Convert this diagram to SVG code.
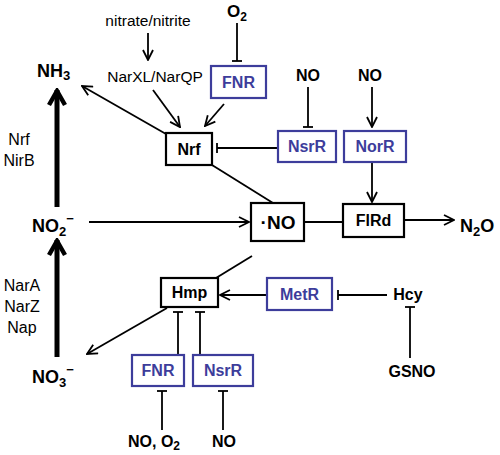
<svg xmlns="http://www.w3.org/2000/svg" width="500" height="455" viewBox="0 0 500 455">
<style>
text{font-family:"Liberation Sans",Arial,sans-serif;fill:#000}
.b{font-weight:bold}
.bl{font-weight:bold;fill:#3d3d9b;font-size:16px}
.kb{font-weight:bold;font-size:16px}
.box{fill:#fff;stroke:#000;stroke-width:2.2}
.rbox{fill:#fff;stroke:#3d3d9b;stroke-width:2.2}
.ln{stroke:#000;stroke-width:1.8;fill:none}
.thick{stroke:#000;stroke-width:5;fill:none}
</style>
<defs>
<marker id="arr" viewBox="0 0 12 12" refX="11" refY="6" markerWidth="12" markerHeight="12" markerUnits="userSpaceOnUse" orient="auto">
<path d="M1,1 L11,6 L1,11" fill="none" stroke="#000" stroke-width="1.8"/>
</marker>
<marker id="tee" viewBox="0 0 12 12" refX="6" refY="6" markerWidth="12" markerHeight="12" markerUnits="userSpaceOnUse" orient="auto">
<path d="M6,1 L6,11" fill="none" stroke="#000" stroke-width="1.8"/>
</marker>
<marker id="big" viewBox="0 0 20 20" refX="18" refY="10" markerWidth="20" markerHeight="20" markerUnits="userSpaceOnUse" orient="auto">
<path d="M3,2 L17,10 L3,18" fill="none" stroke="#000" stroke-width="4.5" stroke-linejoin="miter"/>
</marker>
</defs>
<g id="connectors">
<line class="thick" x1="57" y1="357" x2="57" y2="240" marker-end="url(#big)"/>
<line class="thick" x1="57" y1="207" x2="57" y2="90" marker-end="url(#big)"/>
<line class="ln" x1="148" y1="33" x2="148" y2="60" marker-end="url(#arr)"/>
<line class="ln" x1="153" y1="90" x2="180" y2="127" marker-end="url(#arr)"/>
<line class="ln" x1="224" y1="104" x2="205" y2="126" marker-end="url(#arr)"/>
<line class="ln" x1="166" y1="134" x2="82" y2="86" marker-end="url(#arr)"/>
<line class="ln" x1="237" y1="23" x2="237" y2="61" marker-end="url(#tee)"/>
<line class="ln" x1="308" y1="87" x2="308" y2="127" marker-end="url(#tee)"/>
<line class="ln" x1="372" y1="87" x2="372" y2="127" marker-end="url(#arr)"/>
<line class="ln" x1="278" y1="148" x2="217" y2="148" marker-end="url(#tee)"/>
<line class="ln" x1="372" y1="162" x2="372" y2="202" marker-end="url(#arr)"/>
<line class="ln" x1="212" y1="165" x2="273" y2="203"/>
<line class="ln" x1="89" y1="222" x2="249" y2="222" marker-end="url(#arr)"/>
<line class="ln" x1="304" y1="222" x2="343" y2="222"/>
<line class="ln" x1="404" y1="220" x2="454" y2="220" marker-end="url(#arr)"/>
<line class="ln" x1="216" y1="278" x2="252" y2="256"/>
<line class="ln" x1="267" y1="295" x2="220" y2="295" marker-end="url(#arr)"/>
<line class="ln" x1="387" y1="295" x2="338" y2="295" marker-end="url(#tee)"/>
<line class="ln" x1="410" y1="358" x2="410" y2="307" marker-end="url(#tee)"/>
<line class="ln" x1="167" y1="308" x2="87" y2="354" marker-end="url(#arr)"/>
<line class="ln" x1="178" y1="354" x2="178" y2="312" marker-end="url(#tee)"/>
<line class="ln" x1="200" y1="354" x2="200" y2="312" marker-end="url(#tee)"/>
<line class="ln" x1="162" y1="430" x2="162" y2="391" marker-end="url(#tee)"/>
<line class="ln" x1="223" y1="430" x2="223" y2="391" marker-end="url(#tee)"/>
</g>
<g id="labels">
<text x="148" y="26" font-size="15.5" text-anchor="middle">nitrate/nitrite</text>
<text x="155" y="82" font-size="15.5" text-anchor="middle">NarXL/NarQP</text>
<text x="237" y="17" class="b" font-size="17" text-anchor="middle">O<tspan font-size="12" dy="4">2</tspan></text>
<text x="308" y="81" class="b" font-size="16" text-anchor="middle">NO</text>
<text x="370" y="81" class="b" font-size="16" text-anchor="middle">NO</text>
<text x="37" y="77" class="b" font-size="18">NH<tspan font-size="13" dy="3">3</tspan></text>
<text x="19" y="145" font-size="16" text-anchor="middle">Nrf</text>
<text x="19" y="166" font-size="16" text-anchor="middle">NirB</text>
<text x="32" y="232" class="b" font-size="18">NO<tspan font-size="13" dy="4">2</tspan><tspan font-size="13" dy="-13">−</tspan></text>
<text x="22" y="291" font-size="16" text-anchor="middle">NarA</text>
<text x="22" y="312" font-size="16" text-anchor="middle">NarZ</text>
<text x="22" y="333" font-size="16" text-anchor="middle">Nap</text>
<text x="32" y="383" class="b" font-size="18">NO<tspan font-size="13" dy="4">3</tspan><tspan font-size="13" dy="-13">−</tspan></text>
<text x="460" y="232" class="b" font-size="18">N<tspan font-size="13" dy="4">2</tspan><tspan dy="-4">O</tspan></text>
<text x="408" y="300" class="kb" text-anchor="middle">Hcy</text>
<text x="412" y="377" class="kb" text-anchor="middle">GSNO</text>
<text x="128" y="447" class="kb">NO, O<tspan font-size="12" dy="3">2</tspan></text>
<text x="224" y="447" class="kb" text-anchor="middle">NO</text>
</g>
<g id="FNR_top"><rect class="rbox" x="211" y="66" width="55" height="32"/><text x="238.5" y="88" class="bl" text-anchor="middle">FNR</text></g>
<g id="Nrf"><rect class="box" x="166" y="133" width="46" height="32"/><text x="189" y="155" class="kb" text-anchor="middle">Nrf</text></g>
<g id="NsrR_top"><rect class="rbox" x="278" y="131" width="58" height="31"/><text x="307" y="152" class="bl" text-anchor="middle">NsrR</text></g>
<g id="NorR"><rect class="rbox" x="344" y="131" width="62" height="31"/><text x="375" y="152" class="bl" text-anchor="middle">NorR</text></g>
<g id="NO"><rect class="box" x="251" y="203" width="53" height="38"/><text x="278" y="229" class="b" font-size="19" text-anchor="middle">·NO</text></g>
<g id="FlRd"><rect class="box" x="343" y="204" width="61" height="33"/><text x="373.5" y="226" class="kb" text-anchor="middle">FlRd</text></g>
<g id="MetR"><rect class="rbox" x="267" y="278" width="65" height="32"/><text x="299.5" y="300" class="bl" text-anchor="middle">MetR</text></g>
<g id="Hmp"><rect class="box" x="161" y="278" width="57" height="29"/><text x="189.5" y="298" class="kb" text-anchor="middle">Hmp</text></g>
<g id="FNR_bottom"><rect class="rbox" x="132" y="355" width="52" height="31"/><text x="158" y="376" class="bl" text-anchor="middle">FNR</text></g>
<g id="NsrR_bottom"><rect class="rbox" x="193" y="355" width="60" height="31"/><text x="223" y="376" class="bl" text-anchor="middle">NsrR</text></g>
</svg>
